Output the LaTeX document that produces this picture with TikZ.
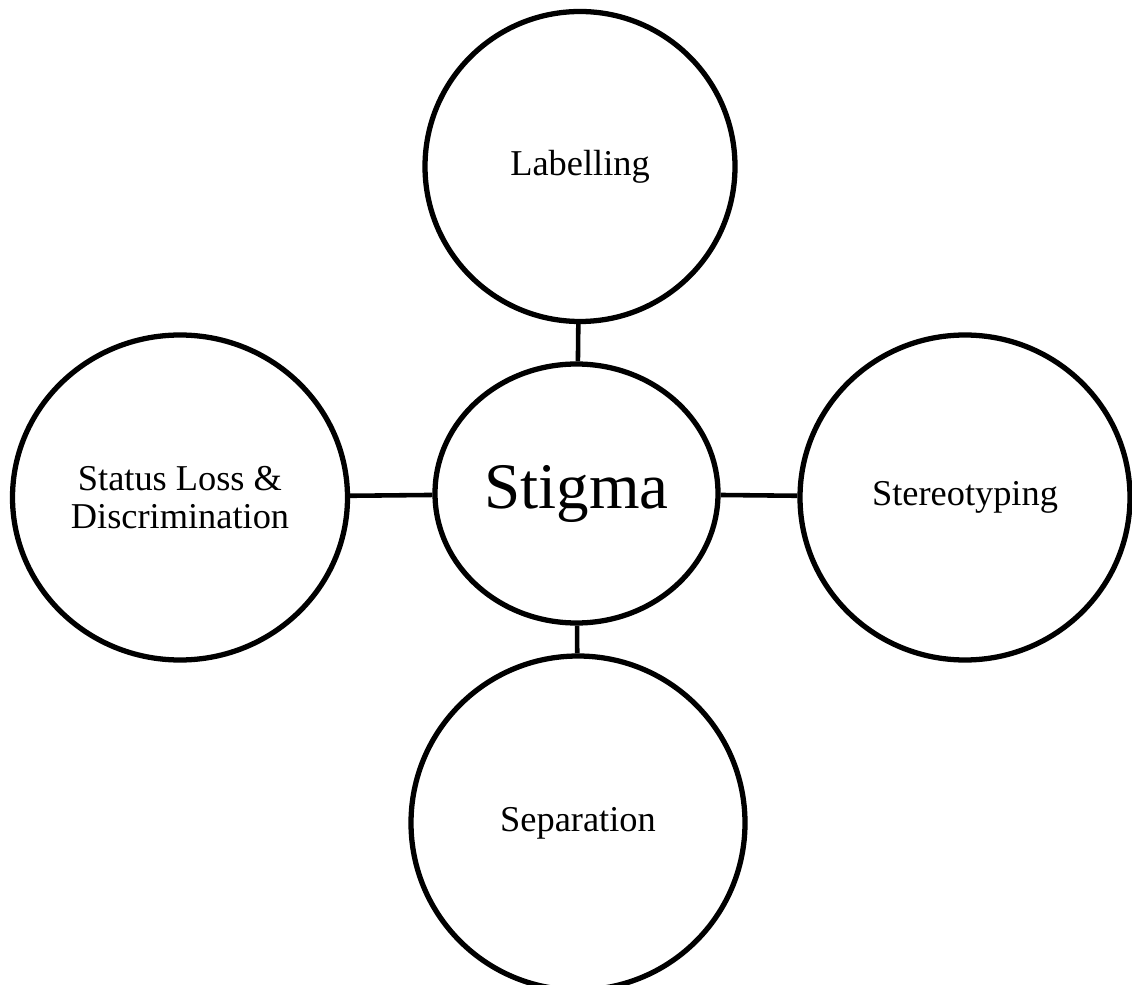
\documentclass[tikz,border=0pt]{standalone}
\usepackage{fontspec}
\setmainfont{Liberation Serif}
\usetikzlibrary{shapes.geometric}
\begin{document}
\begin{tikzpicture}[
            font=\fontsize{20.7}{22}\selectfont,
            bubble/.style={ellipse, draw=black, line width=3pt, inner sep=0pt, align=center},
            link/.style={black, line width=2.6pt}
        ]
		\useasboundingbox (0,0) rectangle (22.64,19.68);
		
		%Centre
		\node[bubble, minimum width=5.66cm, minimum height=5.18cm, font=\fontsize{37}{40}\selectfont] (stigma) at (11.53,9.81) {Stigma};
		
		%Outer circles
		\node[bubble, minimum width=6.2cm, minimum height=6.2cm] (labelling) at (11.6,16.35) {Labelling};
		\node[bubble, minimum width=6.7cm, minimum height=6.5cm] (status) at (3.6,9.73) {Status Loss \&\\Discrimination};
		\node[bubble, minimum width=6.6cm, minimum height=6.5cm] (stereo) at (19.3,9.73) {Stereotyping};
		\node[bubble, minimum width=6.68cm, minimum height=6.68cm] (separation) at (11.56,3.22) {Separation};
		
		%Links
		\draw[link] (labelling) -- (stigma);
		\draw[link] (status) -- (stigma);
		\draw[link] (stereo) -- (stigma);
		\draw[link] (separation) -- (stigma);
    \end{tikzpicture}
\end{document}
